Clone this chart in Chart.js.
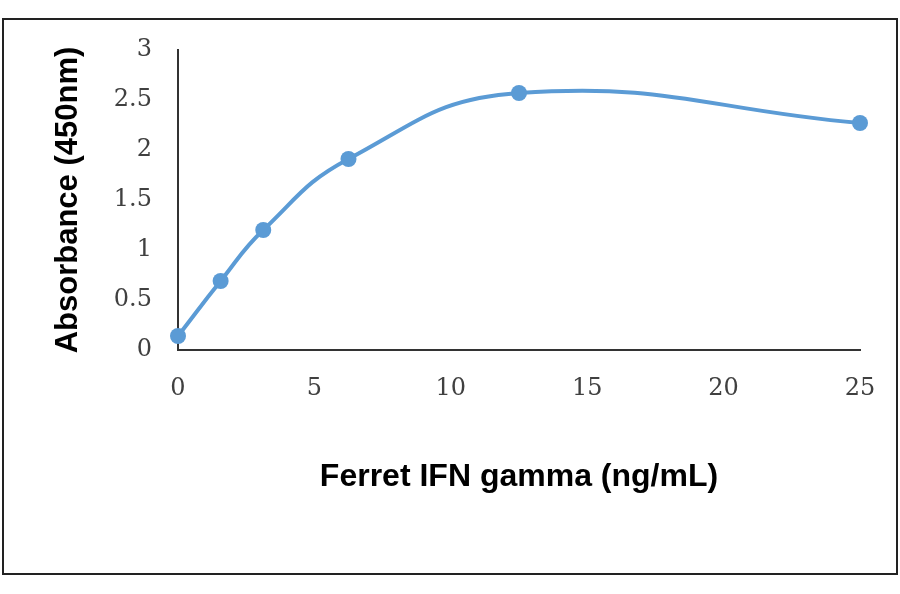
<!DOCTYPE html>
<html>
<head>
    <title>Ferret IFN gamma standard curve</title>
    <script src="https://cdn.jsdelivr.net/npm/chart.js"></script>
    <style>
        body { margin: 0; background: #fff; }
        #wrap { position: relative; width: 900px; height: 594px; }
        #frame { position: absolute; left: 2px; top: 18px; width: 892px; height: 553px; border: 2px solid #222; pointer-events: none; }
    </style>
</head>
<body>
    <div id="wrap">
        <canvas id="myChart" width="900" height="594"></canvas>
        <div id="frame"></div>
    </div>
    <script>
        // Standard concentrations and measured OD
        const concentrations = [0, 1.5625, 3.125, 6.25, 12.5, 25];
        const absorbance = [0.14, 0.69, 1.2, 1.91, 2.57, 2.27];
        const xTicks = [0, 5, 10, 15, 20, 25];
        const yTicks = [0, 0.5, 1, 1.5, 2, 2.5, 3];

        const points = concentrations.map((c, i) => ({ x: c, y: absorbance[i] }));

        const ctx = document.getElementById('myChart').getContext('2d');
        new Chart(ctx, {
            type: 'line',
            data: {
                datasets: [{
                    label: 'Absorbance',
                    data: points,
                    fill: false,
                    borderColor: '#5b9bd5',
                    backgroundColor: '#5b9bd5',
                    borderWidth: 4,
                    pointRadius: 8,
                    pointBorderWidth: 0,
                    tension: 0.45,
                    clip: false
                }]
            },
            options: {
                responsive: false,
                animation: false,
                layout: { padding: { left: 50, right: 40, top: 50, bottom: 98 } },
                plugins: { legend: { display: false }, tooltip: { enabled: false } },
                scales: {
                    x: {
                        type: 'linear',
                        min: 0,
                        max: 25,
                        afterBuildTicks: scale => { scale.ticks = xTicks.map(v => ({ value: v })); },
                        afterFit: scale => { scale.height = 146; },
                        grid: { display: false, drawTicks: false },
                        border: { display: true, color: '#333', width: 2 },
                        ticks: {
                            color: '#404040', padding: 24, maxRotation: 0,
                            font: { family: 'DejaVu Serif', size: 24 },
                            callback: v => String(v)
                        },
                        title: {
                            display: true,
                            text: 'Ferret IFN gamma (ng/mL)',
                            color: '#000',
                            padding: 0,
                            font: { family: 'Liberation Sans', size: 32, weight: 'bold' }
                        }
                    },
                    y: {
                        min: 0,
                        max: 3,
                        afterBuildTicks: scale => { scale.ticks = yTicks.map(v => ({ value: v })); },
                        afterFit: scale => { scale.width = 128; },
                        grid: { display: false, drawTicks: false },
                        border: { display: true, color: '#333', width: 2 },
                        ticks: {
                            color: '#404040', padding: 26,
                            font: { family: 'DejaVu Serif', size: 24 },
                            callback: v => String(v)
                        },
                        title: {
                            display: true,
                            text: 'Absorbance (450nm)',
                            color: '#000',
                            padding: 0,
                            font: { family: 'Liberation Sans', size: 31, weight: 'bold' }
                        }
                    }
                }
            }
        });
    </script>
</body>
</html>
